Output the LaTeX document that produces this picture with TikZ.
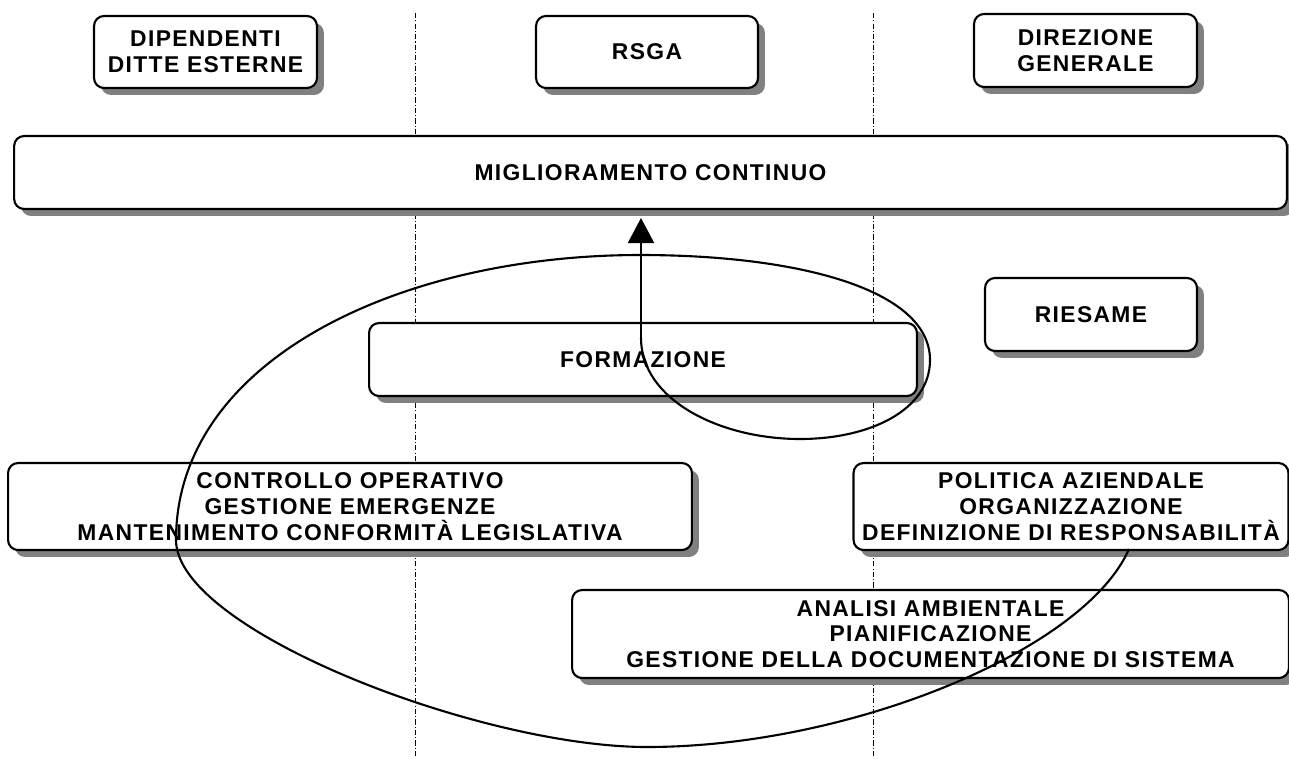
\documentclass[tikz,border=0pt]{standalone}
\usepackage{fontspec}
\setmainfont{Liberation Sans}
\newfontfamily\labfont[LetterSpace=6]{Liberation Sans}
\usetikzlibrary{shadows,arrows.meta}
\definecolor{shadowgray}{RGB}{128,128,128}
\tikzset{
  box/.style={draw, line width=1.2pt, rounded corners=0.2cm, fill=white, align=center,
    inner sep=0pt, font=\labfont\fontsize{13}{14.7}\selectfont\bfseries,
    drop shadow={shadow xshift=0.14cm, shadow yshift=-0.14cm, fill=shadowgray, opacity=1}},
  divider/.style={line width=0.5pt, dash pattern=on 3pt off 1.2pt on 0.6pt off 1.2pt},
  spiral/.style={line width=1.2pt},
}
\begin{document}
\begin{tikzpicture}[x=0.02cm, y=-0.02cm]
\path[use as bounding box, clip] (0,0) rectangle (1289,758);
% dividers
\coordinate (d1t) at (415,13); \coordinate (d1b) at (415,758);
\coordinate (d2t) at (873,13); \coordinate (d2b) at (873,758);
\draw[divider] (d1t) -- (d1b);
\draw[divider] (d2t) -- (d2b);
% boxes
\node[box, minimum width=4.46cm, minimum height=1.44cm] (dip) at (205.5,52) {DIPENDENTI\\DITTE ESTERNE};
\node[box, minimum width=4.44cm, minimum height=1.44cm] (rsga) at (647,52) {RSGA};
\node[box, minimum width=4.46cm, minimum height=1.46cm] (dir) at (1085.5,50.5) {DIREZIONE\\GENERALE};
\node[box, minimum width=25.46cm, minimum height=1.46cm] (mig) at (650.5,172.5) {MIGLIORAMENTO CONTINUO};
\node[box, minimum width=4.24cm, minimum height=1.46cm] (ries) at (1091,314.5) {RIESAME};
\node[box, minimum width=10.96cm, minimum height=1.46cm] (form) at (643,359.5) {FORMAZIONE};
\node[box, minimum width=13.68cm, minimum height=1.74cm] (ctrl) at (350,506.5) {CONTROLLO OPERATIVO\\GESTIONE EMERGENZE\\MANTENIMENTO CONFORMITÀ LEGISLATIVA};
\node[box, minimum width=8.70cm, minimum height=1.74cm] (pol) at (1071,506.5) {POLITICA AZIENDALE\\ORGANIZZAZIONE\\DEFINIZIONE DI RESPONSABILITÀ};
\node[box, minimum width=14.34cm, minimum height=1.76cm] (ana) at (930.5,634) {ANALISI AMBIENTALE\\PIANIFICAZIONE\\GESTIONE DELLA DOCUMENTAZIONE DI SISTEMA};
% spiral
\coordinate (s0) at (1129,549);
\coordinate (sb) at (647,747);
\coordinate (sl) at (176,540);
\coordinate (st) at (640,255);
\coordinate (sr) at (930,360);
\coordinate (sm) at (800,439);
\coordinate (sj) at (641,338);
\coordinate (tip) at (641,218);
\draw[spiral] (s0) .. controls (1085,650) and (850,747) .. (sb)
  .. controls (480,747) and (176,630) .. (sl)
  .. controls (176,360) and (400,255) .. (st)
  .. controls (800,255) and (930,290) .. (sr)
  .. controls (930,410) and (870,439) .. (sm)
  .. controls (720,439) and (641,400) .. (sj);
\draw[spiral, -{Triangle[length=0.5cm, width=0.52cm]}] (sj) -- (tip);
\end{tikzpicture}
\end{document}
